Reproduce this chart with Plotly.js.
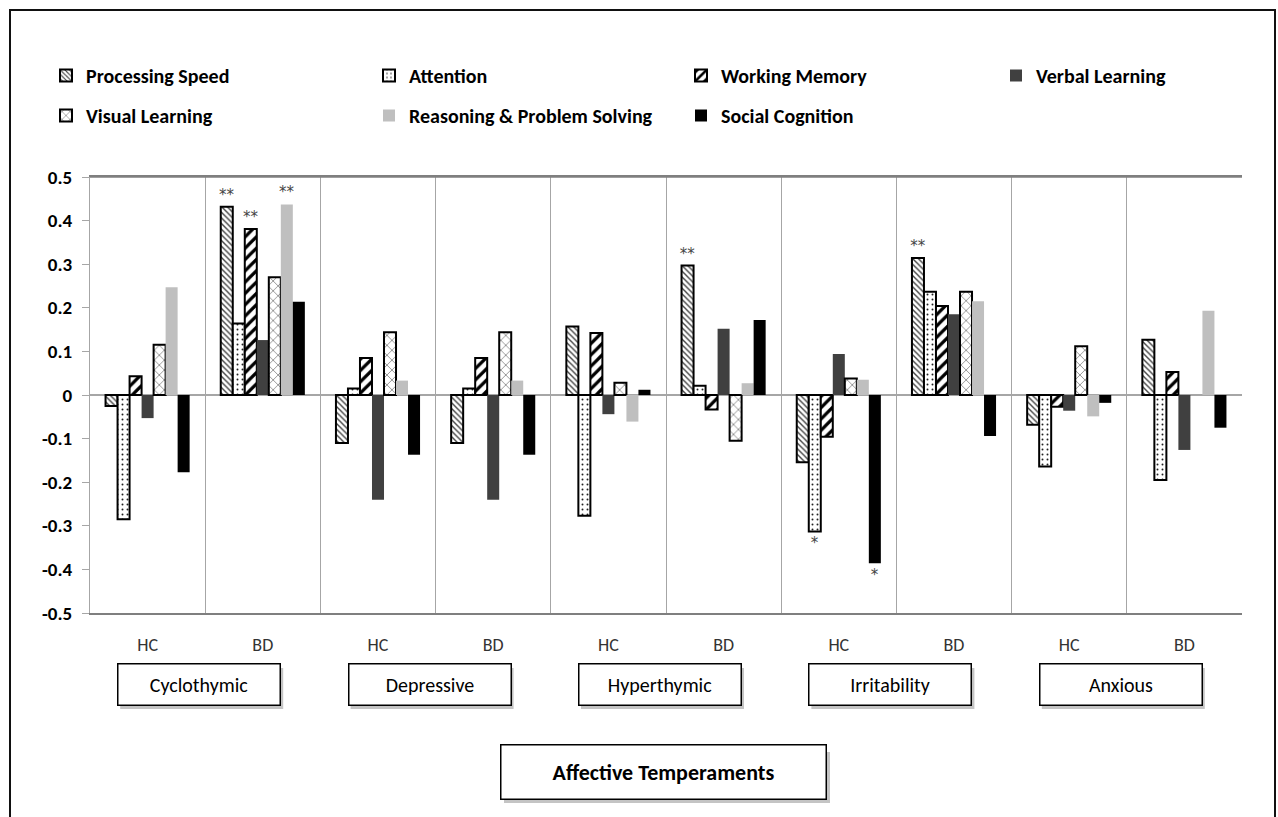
<!DOCTYPE html>
<html>
<head>
<meta charset="utf-8">
<script src="https://cdn.plot.ly/plotly-3.0.1.min.js"></script>
<style>html,body{margin:0;padding:0;background:#fff;}#chart{width:1278px;height:817px;}</style>
</head>
<body>
<div id="chart"></div>
<script>
// ---- data ----
const temperaments = ["Cyclothymic", "Depressive", "Hyperthymic", "Irritability", "Anxious"];
const groups = ["HC", "BD"];
const categories = ["Cyclothymic HC","Cyclothymic BD","Depressive HC","Depressive BD","Hyperthymic HC","Hyperthymic BD","Irritability HC","Irritability BD","Anxious HC","Anxious BD"];
const tickLabels = ["HC","BD","HC","BD","HC","BD","HC","BD","HC","BD"];
const seriesNames = ["Processing Speed","Attention","Working Memory","Verbal Learning","Visual Learning","Reasoning & Problem Solving","Social Cognition"];

const processingSpeed = [-0.025, 0.432, -0.110, -0.110, 0.157, 0.297, -0.154, 0.314, -0.068, 0.127];
const attention       = [-0.285, 0.164, 0.015, 0.015, -0.277, 0.021, -0.313, 0.237, -0.164, -0.195];
const workingMemory   = [0.043, 0.381, 0.085, 0.085, 0.142, -0.033, -0.096, 0.204, -0.027, 0.053];
const verbalLearning  = [-0.053, 0.126, -0.240, -0.240, -0.044, 0.152, 0.094, 0.185, -0.036, -0.126];
const visualLearning  = [0.115, 0.270, 0.144, 0.144, 0.028, -0.105, 0.038, 0.237, 0.112, null];
const reasoning       = [0.247, 0.437, 0.033, 0.033, -0.061, 0.027, 0.035, 0.215, -0.049, 0.193];
const socialCognition = [-0.177, 0.214, -0.137, -0.137, 0.012, 0.172, -0.386, -0.094, -0.018, -0.075];

const sigPS  = ["", "**", "", "", "", "**", "", "**", "", ""];
const sigAtt = ["", "", "", "", "", "", "*", "", "", ""];
const sigWM  = ["", "**", "", "", "", "", "", "", "", ""];
const sigVL  = ["", "", "", "", "", "", "", "", "", ""];
const sigVis = ["", "", "", "", "", "", "", "", "", ""];
const sigRPS = ["", "**", "", "", "", "", "", "", "", ""];
const sigSC  = ["", "", "", "", "", "", "*", "", "", ""];

const yTickVals = [0.5, 0.4, 0.3, 0.2, 0.1, 0, -0.1, -0.2, -0.3, -0.4, -0.5];
const yTickText = ["0.5","0.4","0.3","0.2","0.1","0","-0.1","-0.2","-0.3","-0.4","-0.5"];
const axisTitle = "Affective Temperaments";

// ---- styles ----
const FONT = "Carlito, Lato, 'Liberation Sans', sans-serif";
const values = [processingSpeed, attention, workingMemory, verbalLearning, visualLearning, reasoning, socialCognition];
const sigs = [sigPS, sigAtt, sigWM, sigVL, sigVis, sigRPS, sigSC];
const markers = [
  {color: "#ffffff", line: {color: "#000", width: 2}, pattern: {shape: "\\", fgcolor: "#444", bgcolor: "#fff", size: 4, solidity: 0.35}},
  {color: "#ffffff", line: {color: "#000", width: 2}, pattern: {shape: ".", fgcolor: "#222", bgcolor: "#fff", size: 5, solidity: 0.12}},
  {color: "#ffffff", line: {color: "#000", width: 2}, pattern: {shape: "/", fgcolor: "#000", bgcolor: "#fff", size: 8, solidity: 0.4}},
  {color: "#404040", line: {width: 0}},
  {color: "#ffffff", line: {color: "#000", width: 2}, pattern: {shape: "x", fgcolor: "#444", bgcolor: "#fff", size: 7, solidity: 0.15}},
  {color: "#bfbfbf", line: {width: 0}},
  {color: "#000000", line: {width: 0}}
];
// legend columns (Excel-style 4-column legend, filled row by row)
const legendOf = ["legend","legend2","legend3","legend4","legend","legend2","legend3"];

const traces = seriesNames.map((name, i) => ({
  type: "bar",
  name: name,
  x: categories,
  y: values[i],
  marker: markers[i],
  text: sigs[i],
  textposition: "outside",
  constraintext: "none",
  cliponaxis: false,
  textfont: {family: "DejaVu Sans, sans-serif", size: 15, color: "#444"},
  hoverinfo: "name+y",
  legend: legendOf[i],
  legendgroup: "g" + i
}));

// plot area: x 90..1242, y 177..613
const plotH = 436;
const pyToPaper = py => (613 - py) / plotH;
const pxToPaper = px => (px - 90) / 1152;

const annotations = [];
const shadowShapes = [];
temperaments.forEach((t, k) => {
  const cx = 90 + (2 * k + 1) * 115.2 - 6;
  shadowShapes.push({
    type: "rect", xref: "paper", yref: "paper", layer: "below",
    x0: pxToPaper(cx - 79), x1: pxToPaper(cx + 84),
    y0: pyToPaper(709), y1: pyToPaper(668),
    line: {width: 0}, fillcolor: "#c4c4c4"
  });
  annotations.push({
    x: 2 * k + 0.5, xref: "x", y: pyToPaper(684), yref: "paper",
    xanchor: "center", yanchor: "middle",
    xshift: -6,
    text: t, showarrow: false, width: 157, height: 36,
    font: {family: FONT, size: 20, color: "#000"},
    bgcolor: "#fff", bordercolor: "#000", borderwidth: 1.5, borderpad: 2
  });
});
shadowShapes.push({
  type: "rect", xref: "paper", yref: "paper", layer: "below",
  x0: pxToPaper(504), x1: pxToPaper(830),
  y0: pyToPaper(803), y1: pyToPaper(752),
  line: {width: 0}, fillcolor: "#c4c4c4"
});
annotations.push({
  x: pxToPaper(663), xref: "paper", y: pyToPaper(772), yref: "paper",
  xanchor: "center", yanchor: "middle",
  text: "<b>" + axisTitle + "</b>", showarrow: false, width: 320, height: 49,
  align: "center",
  font: {family: FONT, size: 22, color: "#000"},
  bgcolor: "#fff", bordercolor: "#000", borderwidth: 1.5, borderpad: 2
});

const legendCommon = {
  orientation: "v",
  xref: "container", yref: "container",
  xanchor: "left", yanchor: "top",
  font: {family: FONT, size: 20, color: "#000", weight: "bold"},
  bgcolor: "rgba(0,0,0,0)", borderwidth: 0,
  itemwidth: 30, traceorder: "grouped", tracegroupgap: 11
};
const legendTop = 1 - 56 / 817;

const layout = {
  width: 1278, height: 817,
  margin: {l: 90, r: 36, t: 177, b: 204, pad: 0, autoexpand: false},
  paper_bgcolor: "#fff", plot_bgcolor: "#fff",
  barmode: "group", bargap: 0.27, bargroupgap: 0,
  font: {family: FONT, color: "#000"},
  showlegend: true,
  legend:  Object.assign({}, legendCommon, {x: 46 / 1278, y: legendTop}),
  legend2: Object.assign({}, legendCommon, {x: 369 / 1278, y: legendTop}),
  legend3: Object.assign({}, legendCommon, {x: 681 / 1278, y: legendTop}),
  legend4: Object.assign({}, legendCommon, {x: 996 / 1278, y: legendTop}),
  xaxis: {
    type: "category",
    tickmode: "array", tickvals: categories, ticktext: tickLabels,
    tickson: "boundaries",
    showgrid: true, gridcolor: "#a6a6a6", gridwidth: 1,
    ticks: "", showline: true, linecolor: "#7f7f7f", linewidth: 1.5, mirror: true,
    tickfont: {family: FONT, size: 18, color: "#333"},
    ticklabelstandoff: 15,
    range: [-0.5, 9.5], fixedrange: true
  },
  yaxis: {
    range: [-0.5, 0.5],
    tickmode: "array", tickvals: yTickVals, ticktext: yTickText,
    showgrid: false,
    zeroline: true, zerolinecolor: "#a6a6a6", zerolinewidth: 1.5,
    showline: true, linecolor: "#a6a6a6", linewidth: 1, mirror: false,
    ticks: "outside", ticklen: 7, tickcolor: "#a6a6a6",
    tickfont: {family: FONT, size: 19, color: "#000", weight: "bold"},
    ticklabelstandoff: 6,
    fixedrange: true
  },
  shapes: shadowShapes.concat([
    {type: "rect", xref: "paper", yref: "paper",
     x0: pxToPaper(10), x1: pxToPaper(1275), y0: pyToPaper(840), y1: pyToPaper(10),
     line: {color: "#111", width: 2}, fillcolor: "rgba(0,0,0,0)", layer: "above"},
    {type: "line", xref: "paper", yref: "paper", x0: 0, x1: 1, y0: 1, y1: 1,
     line: {color: "#7f7f7f", width: 1.5}}
  ]),
  annotations: annotations
};

Plotly.newPlot("chart", traces, layout, {displayModeBar: false, responsive: false});
</script>
</body>
</html>
